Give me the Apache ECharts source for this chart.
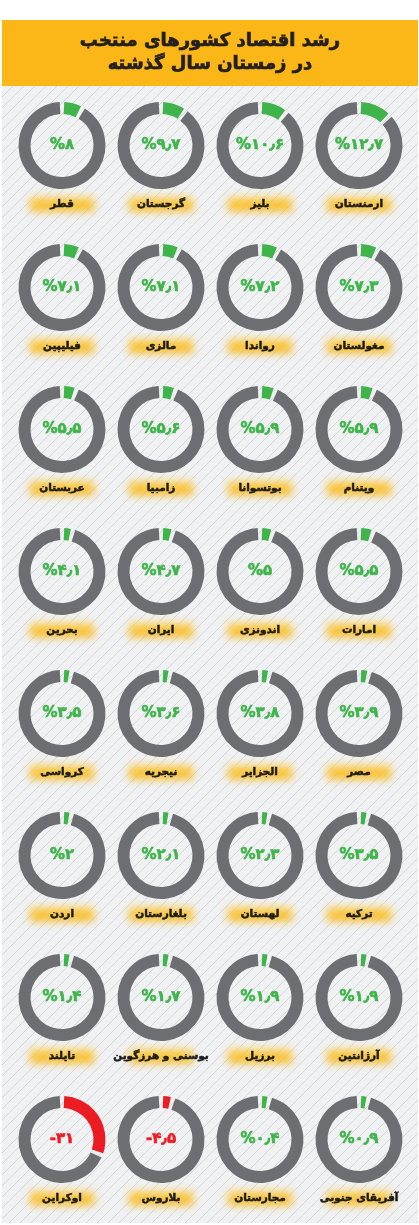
<!DOCTYPE html>
<html>
<head>
<meta charset="utf-8">
<script src="https://cdn.jsdelivr.net/npm/echarts@6/dist/echarts.min.js"></script>
<style>
html,body{margin:0;padding:0;background:#fff;}
#main{width:419px;height:1225px;}
</style>
</head>
<body>
<div id="main"></div>
<script>
// ترتیب خواندن: راست به چپ، بالا به پایین
var countries = [
	'ارمنستان','بلیز','گرجستان','قطر',
	'مغولستان','رواندا','مالزی','فیلیپین',
	'ویتنام','بوتسوانا','زامبیا','عربستان',
	'امارات','اندونزی','ایران','بحرین',
	'مصر','الجزایر','نیجریه','کرواسی',
	'ترکیه','لهستان','بلغارستان','اردن',
	'آرژانتین','برزیل','بوسنی و هرزگوین','تایلند',
	'آفریقای جنوبی','مجارستان','بلاروس','اوکراین'
];
var growth = [
	12.7,10.6,9.7,8,
	7.3,7.2,7.1,7.1,
	5.9,5.9,5.6,5.5,
	5.5,5,4.7,4.1,
	3.9,3.8,3.6,3.5,
	3.5,2.3,2.1,2,
	1.9,1.9,1.7,1.4,
	0.9,0.4,-4.5,-31
];
var title1 = 'رشد اقتصاد کشورهای منتخب';
var title2 = 'در زمستان سال گذشته';

var GREEN = '#3fb44a', GRAY = '#6d6e71', RED = '#ec1c24', YELLOW = '#fbb718';
var FONT = '"DejaVu Sans"';

function faNum(v){
	var d = '۰۱۲۳۴۵۶۷۸۹';
	var s = String(Math.abs(v)).replace('.', '٫').replace(/[0-9]/g, function(c){ return d[+c]; });
	return v < 0 ? '-' + s : '%' + s;
}

// بافت خط‌دار پس‌زمینه
var tile = document.createElement('canvas');
tile.width = 11; tile.height = 11;
var g = tile.getContext('2d');
g.fillStyle = '#f0f1f3'; g.fillRect(0,0,11,11);
g.strokeStyle = '#d4d5d8'; g.lineWidth = 1;
g.beginPath();
[-11,0,11].forEach(function(o){ g.moveTo(o,11); g.lineTo(o+11,0); });
g.stroke();

// هاله زرد زیر نام کشورها
var glow = document.createElement('canvas');
glow.width = 92; glow.height = 34;
var gc = glow.getContext('2d');
gc.filter = 'blur(4px)';
var grd = gc.createLinearGradient(0,10,0,24);
grd.addColorStop(0,'rgba(252,212,95,0.9)');
grd.addColorStop(1,'rgba(247,176,0,1)');
gc.fillStyle = grd;
gc.fillRect(14,10,64,14);

var myChart = echarts.init(document.getElementById('main'));
var series = [];
var graphics = [
	{type:'rect', shape:{x:2,y:86,width:416,height:1137}, style:{fill:{image:tile, repeat:'repeat'}}, silent:true},
	{type:'rect', shape:{x:2,y:20,width:416,height:66}, style:{fill:YELLOW}, silent:true},
	{type:'text', x:210, y:41, style:{text:title1, fill:'#231f20', stroke:'#231f20', lineWidth:0.7, font:'bold 18px ' + FONT, align:'center', verticalAlign:'middle'}, silent:true},
	{type:'text', x:210, y:64, style:{text:title2, fill:'#231f20', stroke:'#231f20', lineWidth:0.7, font:'bold 18px ' + FONT, align:'center', verticalAlign:'middle'}, silent:true}
];

countries.forEach(function(name, i){
	var row = Math.floor(i/4), col = 3 - i%4;
	var cx = 62 + col*99, cy = 145.5 + row*142;
	var v = growth[i];
	var color = v < 0 ? RED : GREEN;
	series.push({
		type:'pie',
		center:[cx,cy],
		radius:[31.5,43.5],
		startAngle:90,
		clockwise:true,
		padAngle:6,
		minAngle:7,
		silent:true,
		animation:false,
		emphasis:{disabled:true},
		label:{show:false},
		labelLine:{show:false},
		data:[
			{value:Math.abs(v), itemStyle:{color:color},
				label:{show:true, position:'center', formatter:faNum(v), color:color, fontSize:15, fontWeight:'bold', fontFamily:FONT,
					textBorderColor:color, textBorderWidth:0.6}},
			{value:100-Math.abs(v), itemStyle:{color:GRAY}}
		]
	});
	graphics.push({
		type:'image', x:cx-46, y:cy+41.5,
		style:{image:glow, width:92, height:34},
		silent:true
	});
	graphics.push({
		type:'text', x:cx, y:cy+59,
		style:{text:name, fill:'#1a1a1a', stroke:'#1a1a1a', lineWidth:0.5, font:'bold 10.5px ' + FONT, align:'center', verticalAlign:'middle'},
		silent:true
	});
});

var option = {
	backgroundColor:'#fff',
	graphic:{elements:graphics},
	series:series
};
myChart.setOption(option);
</script>
</body>
</html>
